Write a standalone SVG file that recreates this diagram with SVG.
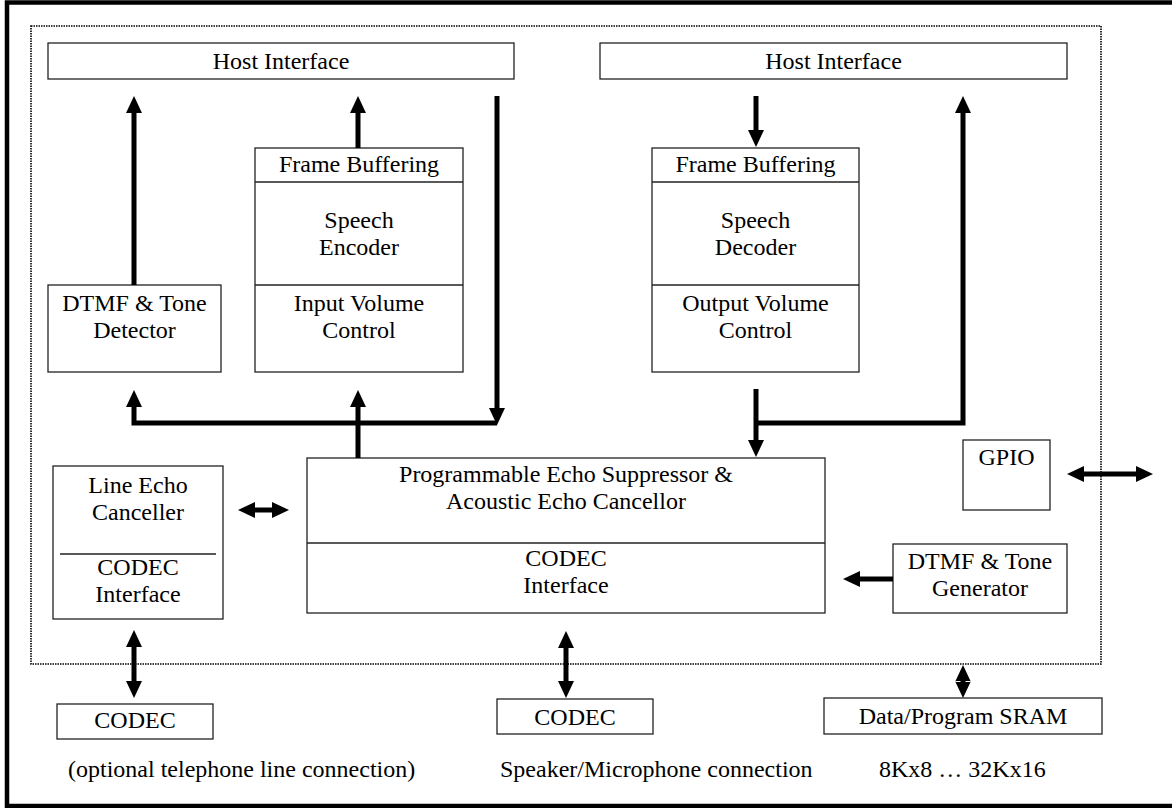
<svg xmlns="http://www.w3.org/2000/svg" width="1172" height="808" viewBox="0 0 1172 808">
<style>
.box{fill:#fff;stroke:#222;stroke-width:1.3}
.sep{stroke:#222;stroke-width:1.3;fill:none}
.t{font-family:"Liberation Serif","Times New Roman",serif;font-size:24px;fill:#000;text-anchor:middle}
.ts{font-family:"Liberation Serif","Times New Roman",serif;font-size:24px;fill:#000}
.c{fill:none;stroke:#000;stroke-width:5;stroke-linejoin:miter;stroke-linecap:butt}
</style>
<defs>
<marker id="ah" viewBox="0 -8 17 16" refX="0" refY="0" markerWidth="17" markerHeight="16" markerUnits="userSpaceOnUse" orient="auto-start-reverse">
<path d="M0,-8 L17,0 L0,8 z" fill="#000"/>
</marker>
</defs>
<rect width="1172" height="808" fill="#fff"/>
<rect x="7" y="2.5" width="1180" height="803.5" fill="none" stroke="#000" stroke-width="4.5"/>
<rect x="31" y="26" width="1070" height="638" fill="none" stroke="#000" stroke-width="1.6" stroke-dasharray="1.5 1"/>

<g id="host-left"><rect class="box" x="48" y="43" width="466" height="36"/><text class="t" x="281" y="69">Host Interface</text></g>
<g id="host-right"><rect class="box" x="600" y="43" width="467" height="36"/><text class="t" x="833.5" y="69">Host Interface</text></g>

<g id="encoder">
<rect class="box" x="255" y="148" width="208" height="224"/>
<line class="sep" x1="255" y1="182" x2="463" y2="182"/>
<line class="sep" x1="255" y1="285" x2="463" y2="285"/>
<text class="t" x="359" y="172">Frame Buffering</text>
<text class="t" x="359" y="228">Speech</text>
<text class="t" x="359" y="255">Encoder</text>
<text class="t" x="359" y="311">Input Volume</text>
<text class="t" x="359" y="338">Control</text>
</g>

<g id="decoder">
<rect class="box" x="652" y="148" width="207" height="224"/>
<line class="sep" x1="652" y1="182" x2="859" y2="182"/>
<line class="sep" x1="652" y1="285" x2="859" y2="285"/>
<text class="t" x="755.5" y="172">Frame Buffering</text>
<text class="t" x="755.5" y="228">Speech</text>
<text class="t" x="755.5" y="255">Decoder</text>
<text class="t" x="755.5" y="311">Output Volume</text>
<text class="t" x="755.5" y="338">Control</text>
</g>

<g id="dtmf-detector">
<rect class="box" x="48" y="285" width="173" height="87"/>
<text class="t" x="134.5" y="311">DTMF &amp; Tone</text>
<text class="t" x="134.5" y="338">Detector</text>
</g>

<g id="line-echo">
<rect class="box" x="53" y="466" width="170" height="153"/>
<line class="sep" x1="60" y1="554" x2="216" y2="554"/>
<text class="t" x="138" y="493">Line Echo</text>
<text class="t" x="138" y="520">Canceller</text>
<text class="t" x="138" y="575">CODEC</text>
<text class="t" x="138" y="602">Interface</text>
</g>

<g id="echo-suppressor">
<rect class="box" x="307" y="458" width="518" height="155"/>
<line class="sep" x1="307" y1="543" x2="825" y2="543"/>
<text class="t" x="566" y="482">Programmable Echo Suppressor &amp;</text>
<text class="t" x="566" y="509">Acoustic Echo Cancellor</text>
<text class="t" x="566" y="566">CODEC</text>
<text class="t" x="566" y="593">Interface</text>
</g>

<g id="gpio"><rect class="box" x="963" y="440" width="87" height="70"/><text class="t" x="1006.5" y="465">GPIO</text></g>

<g id="dtmf-generator">
<rect class="box" x="893" y="544" width="174" height="69"/>
<text class="t" x="980" y="569">DTMF &amp; Tone</text>
<text class="t" x="980" y="596">Generator</text>
</g>

<g id="codec-line"><rect class="box" x="57" y="704" width="156" height="35"/><text class="t" x="135" y="728">CODEC</text></g>
<g id="codec-speaker"><rect class="box" x="497" y="699" width="156" height="35"/><text class="t" x="575" y="725">CODEC</text></g>
<g id="sram"><rect class="box" x="824" y="698" width="278" height="36"/><text class="t" x="963" y="724">Data/Program SRAM</text></g>

<g id="captions">
<text class="ts" x="68" y="777">(optional telephone line connection)</text>
<text class="ts" x="500" y="777">Speaker/Microphone connection</text>
<text class="ts" x="879" y="777">8Kx8 … 32Kx16</text>
</g>

<g id="connectors">
<polyline class="c" points="134,285 134,113" marker-end="url(#ah)"/>
<polyline class="c" points="358,148 358,113" marker-end="url(#ah)"/>
<polyline class="c" points="497,96 497,408" marker-end="url(#ah)"/>
<polyline class="c" points="134,407 134,423 497,423" marker-start="url(#ah)"/>
<polyline class="c" points="358,458 358,407" marker-end="url(#ah)"/>
<polyline class="c" points="756,96 756,130" marker-end="url(#ah)"/>
<polyline class="c" points="756,389 756,440" marker-end="url(#ah)"/>
<polyline class="c" points="756,423 963,423 963,113" marker-end="url(#ah)"/>
<polyline class="c" points="255,510 272,510" marker-start="url(#ah)" marker-end="url(#ah)"/>
<polyline class="c" points="1084,474 1136,474" marker-start="url(#ah)" marker-end="url(#ah)"/>
<polyline class="c" points="893,579 860,579" marker-end="url(#ah)"/>
<polyline class="c" points="134,647 134,681" marker-start="url(#ah)" marker-end="url(#ah)"/>
<polyline class="c" points="566,648 566,681" marker-start="url(#ah)" marker-end="url(#ah)"/>
<line class="c" x1="963" y1="676" x2="963" y2="687"/>
<path d="M963,665 L971,682 L955,682 z M963,698 L971,681 L955,681 z" fill="#000"/>
</g>
</svg>
